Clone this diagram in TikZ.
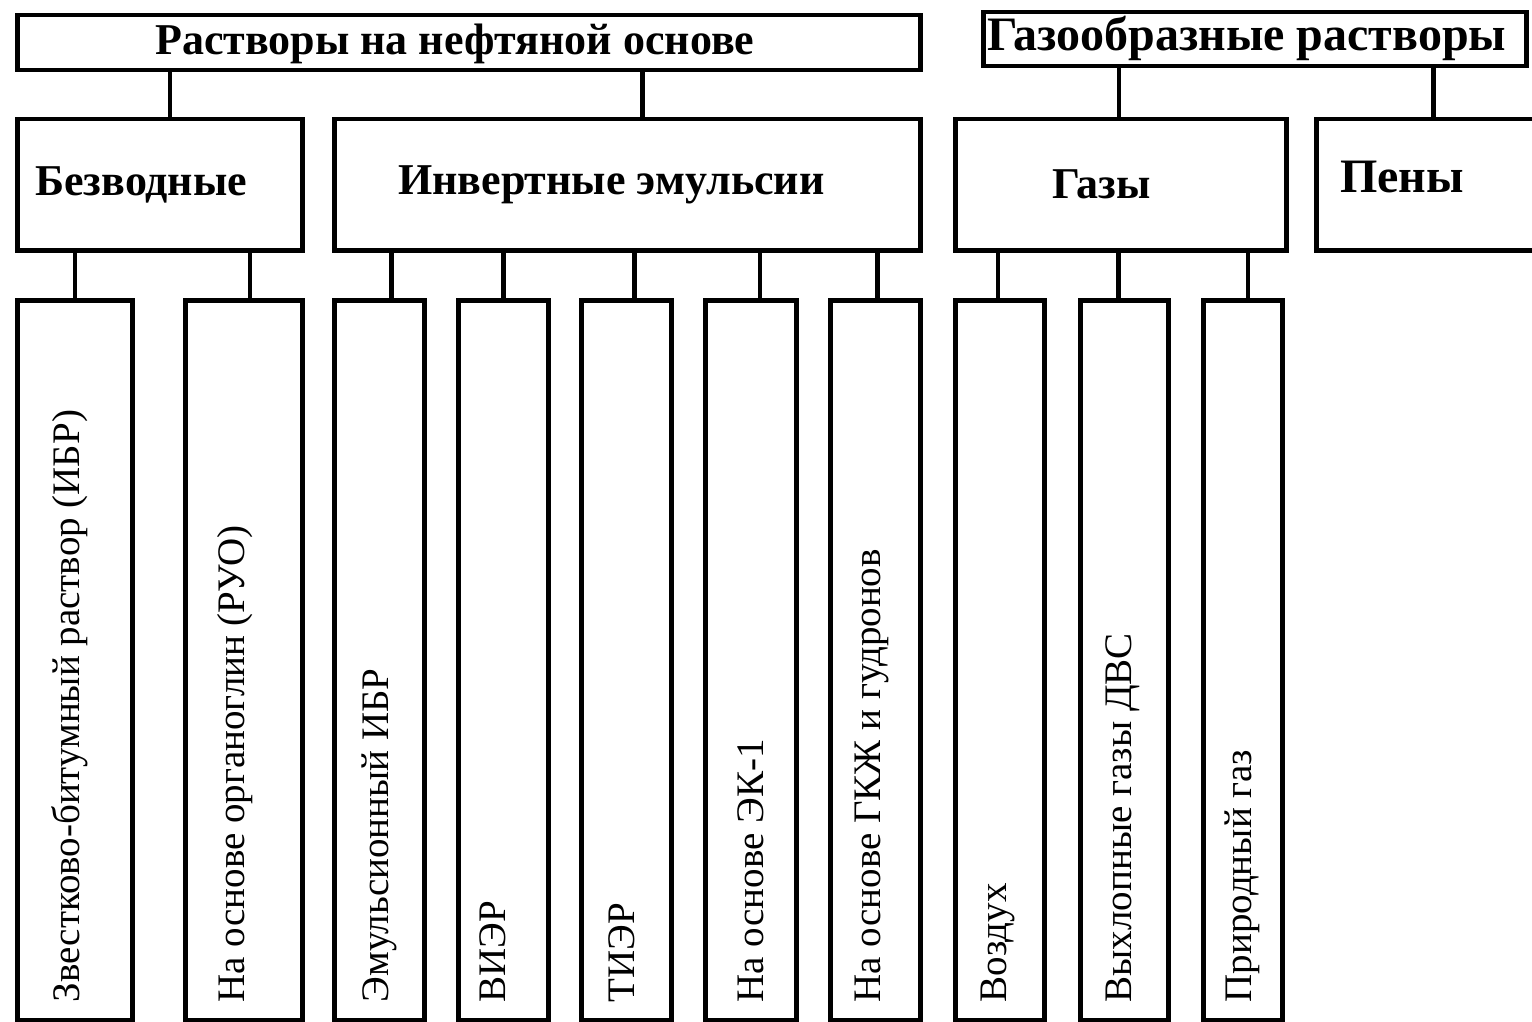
\documentclass[tikz,border=0pt]{standalone}
\usepackage{fontspec}
\setmainfont{Liberation Serif}
\newfontfamily\lserif{Liberation Serif}
\usetikzlibrary{calc}
\begin{document}
\begin{tikzpicture}[x=1pt,y=-1pt,
  box/.style={draw=black, line width=4.5pt, rectangle, inner sep=0pt, anchor=north west, fill=white},
  conn/.style={draw=black, line width=4.5pt},
  hdr/.style={font=\lserif\bfseries\fontsize{44}{48}\selectfont, inner sep=0pt, anchor=west},
  bighdr/.style={font=\lserif\bfseries\fontsize{48}{52}\selectfont, inner sep=0pt, anchor=west},
  vtext/.style={font=\lserif\fontsize{39}{43}\selectfont, inner sep=0pt, rotate=90, anchor=west}]
\fill[white] (0,0) rectangle (1532,1022);
\useasboundingbox (0,0) rectangle (1532,1022);
\clip (0,0) rectangle (1532,1022);
% top level
\node[box, minimum width=903, minimum height=55] (top1) at (15,13) {};
\node[box, minimum width=543, minimum height=54] (top2) at (981,10) {};
% middle level
\node[box, minimum width=285, minimum height=131] (bezv) at (15,117) {};
\node[box, minimum width=586, minimum height=131] (inv) at (332,117) {};
\node[box, minimum width=331, minimum height=131] (gazy) at (953,117) {};
\node[box, minimum width=260, minimum height=131] (peny) at (1314,117) {};
% bottom level
\node[box, minimum width=115, minimum height=720] (b1) at (15,298) {};
\node[box, minimum width=117, minimum height=720] (b2) at (183,298) {};
\node[box, minimum width=90, minimum height=720] (b3) at (332,298) {};
\node[box, minimum width=90, minimum height=720] (b4) at (456,298) {};
\node[box, minimum width=90, minimum height=720] (b5) at (579,298) {};
\node[box, minimum width=91, minimum height=720] (b6) at (703,298) {};
\node[box, minimum width=90, minimum height=720] (b7) at (828,298) {};
\node[box, minimum width=89, minimum height=720] (b8) at (953,298) {};
\node[box, minimum width=88, minimum height=720] (b9) at (1078,298) {};
\node[box, minimum width=79, minimum height=720] (b10) at (1201,298) {};
% connectors top -> middle
\draw[conn] ([xshift=10pt]bezv.north) -- ([xshift=10pt]bezv.north |- top1.south);
\draw[conn] ([xshift=15pt]inv.north) -- ([xshift=15pt]inv.north |- top1.south);
\draw[conn] ([xshift=-2pt]gazy.north) -- ([xshift=-2pt]gazy.north |- top2.south);
\draw[conn] ([xshift=-13pt]peny.north) -- ([xshift=-13pt]peny.north |- top2.south);
% connectors middle -> bottom
\draw[conn] (b1.north) -- (b1.north |- bezv.south);
\draw[conn] ([xshift=6pt]b2.north) -- ([xshift=6pt]b2.north |- bezv.south);
\draw[conn] ([xshift=12pt]b3.north) -- ([xshift=12pt]b3.north |- inv.south);
\draw[conn] (b4.north) -- (b4.north |- inv.south);
\draw[conn] ([xshift=8pt]b5.north) -- ([xshift=8pt]b5.north |- inv.south);
\draw[conn] ([xshift=9pt]b6.north) -- ([xshift=9pt]b6.north |- inv.south);
\draw[conn] ([xshift=2pt]b7.north) -- ([xshift=2pt]b7.north |- inv.south);
\draw[conn] ([xshift=-2pt]b8.north) -- ([xshift=-2pt]b8.north |- gazy.south);
\draw[conn] ([xshift=-6pt]b9.north) -- ([xshift=-6pt]b9.north |- gazy.south);
\draw[conn] ([xshift=5pt]b10.north) -- ([xshift=5pt]b10.north |- gazy.south);
% labels
\node[hdr] (t1) at ($(top1.west)+(140,1)$) {Растворы на нефтяной основе};
\node[bighdr] (t2) at ($(top2.west)+(6,-1)$) {Газообразные растворы};
\node[hdr] (t3) at ($(bezv.west)+(20,0)$) {Безводные};
\node[hdr] (t4) at ($(inv.west)+(66,0)$) {Инвертные эмульсии};
\node[hdr] (t5) at ($(gazy.west)+(99,0)$) {Газы};
\node[bighdr] (t6) at ($(peny.west)+(26,-8)$) {Пены};
\node[vtext] (v1) at ($(b1.south)+(-5,-20)$) {Звестково-битумный раствор (ИБР)};
\node[vtext] (v2) at ($(b2.south)+(-9,-20)$) {На основе органоглин (РУО)};
\node[vtext] (v3) at ($(b3.south)+(0,-20)$) {Эмульсионный ИБР};
\node[vtext] (v4) at ($(b4.south)+(-10,-20)$) {ВИЭР};
\node[vtext] (v5) at ($(b5.south)+(-4,-20)$) {ТИЭР};
\node[vtext] (v6) at ($(b6.south)+(0,-20)$) {На основе ЭК-1};
\node[vtext] (v7) at ($(b7.south)+(-3,-20)$) {На основе ГКЖ и гудронов};
\node[vtext] (v8) at ($(b8.south)+(-2,-20)$) {Воздух};
\node[vtext] (v9) at ($(b9.south)+(-2,-20)$) {Выхлопные газы ДВС};
\node[vtext] (v10) at ($(b10.south)+(0,-20)$) {Природный газ};
\end{tikzpicture}
\end{document}
